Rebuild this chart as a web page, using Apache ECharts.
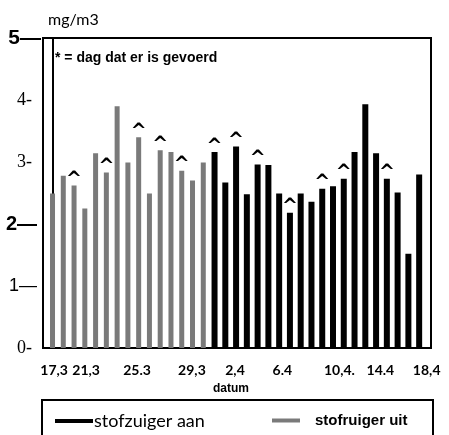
<!DOCTYPE html>
<html>
<head>
<meta charset="utf-8">
<script src="https://cdn.jsdelivr.net/npm/echarts@6/dist/echarts.min.js"></script>
<style>
  html, body { margin: 0; padding: 0; background: #fff; }
  #chart { width: 449px; height: 435px; }
</style>
</head>
<body>
<div id="chart"></div>
<script>
// dagwaarden stof (mg/m3)
const uitValues = [2.49, 2.78, 2.62, 2.25, 3.14, 2.83, 3.90, 2.99, 3.40, 2.49, 3.19, 3.16, 2.86, 2.70, 2.99];
const aanValues = [3.16, 2.67, 3.25, 2.48, 2.96, 2.95, 2.49, 2.18, 2.49, 2.36, 2.57, 2.61, 2.73, 3.16, 3.93, 3.14, 2.73, 2.51, 1.52, 2.80];
// dagen waarop gevoerd is (index binnen de reeks)
const uitFed = [2, 5, 8, 10, 12];
const aanFed = [0, 2, 4, 7, 10, 12, 16];
// datumlabels en hun plaats op de as (in staven)
const tickLabels = ['17,3', '21,3', '25.3', '29,3', '2,4', '6.4', '10,4.', '14.4', '18,4'];
const tickAt = [0.1, 3.07, 7.8, 12.9, 16.9, 21.3, 26.6, 30.4, 34.7];
const yTicks = [0, 1, 2, 3, 4, 5];

const uitData = uitValues.map((v, i) => ({
    value: [i, v],
    label: { show: uitFed.includes(i) }
}));
const aanData = aanValues.map((v, i) => ({
    value: [uitValues.length + i, v],
    label: { show: aanFed.includes(i) }
}));

const fedLabel = {
    position: 'top',
    distance: -4,
    formatter: '^',
    color: '#000',
    fontFamily: 'DejaVu Sans',
    fontWeight: 'bold',
    fontSize: 19
};

const chart = echarts.init(document.getElementById('chart'));

chart.setOption({
    animation: false,
    title: {
        text: '* = dag dat er is gevoerd',
        left: 50,
        top: 46,
        textStyle: { fontFamily: 'Liberation Sans', fontWeight: 'bold', fontSize: 14, color: '#000' }
    },
    legend: [
        {
            data: ['stofzuiger aan'],
            left: 50,
            top: 407,
            icon: 'rect',
            itemWidth: 38,
            itemHeight: 4,
            textStyle: { fontFamily: 'Lato', fontSize: 18, color: '#000', padding: [0, 0, 0, -4] }
        },
        {
            data: ['stofruiger uit'],
            left: 267,
            top: 408,
            icon: 'rect',
            itemWidth: 28,
            itemHeight: 4,
            textStyle: { fontFamily: 'Liberation Sans', fontWeight: 'bold', fontSize: 15, color: '#000', padding: [0, 0, 0, 10] }
        }
    ],
    graphic: [{
        type: 'rect',
        shape: { x: 42, y: 400, width: 391, height: 40 },
        style: { fill: 'none', stroke: '#000', lineWidth: 2 }
    }],
    grid: {
        left: 43, right: 18, top: 38, bottom: 87,
        show: true,
        borderColor: '#000',
        borderWidth: 2
    },
    xAxis: {
        type: 'value',
        min: -0.93,
        max: 35.1,
        name: 'datum',
        nameLocation: 'middle',
        nameGap: 35,
        nameTextStyle: { fontFamily: 'Liberation Sans', fontWeight: 'bold', fontSize: 12, color: '#000', padding: [0, 12, 0, 0] },
        axisLine: { show: false },
        axisTick: { show: false },
        splitLine: { show: false },
        axisLabel: {
            customValues: tickAt,
            margin: 15,
            fontFamily: 'Lato',
            fontWeight: 'bold',
            fontSize: 14,
            color: '#000',
            formatter: v => {
                let k = 0;
                tickAt.forEach((t, i) => { if (Math.abs(t - v) < Math.abs(tickAt[k] - v)) k = i; });
                return tickLabels[k];
            }
        }
    },
    yAxis: {
        type: 'value',
        min: 0,
        max: 5,
        interval: 1,
        name: 'mg/m3',
        nameGap: 10,
        nameTextStyle: { fontFamily: 'Lato', fontSize: 16, color: '#000', align: 'left', padding: [0, 0, 0, -5] },
        axisLine: { show: true, lineStyle: { color: '#000', width: 2 } },
        axisTick: { show: false },
        splitLine: { show: false },
        axisLabel: {
            margin: 2,
            customValues: yTicks,
            formatter: v => {
                if (v === 5) return '{t|5—}';
                if (v === 2) return '{b|2—}';
                if (v === 1) return '{s|1—}';
                return '{r|' + v + '-}';
            },
            rich: {
                t: { fontFamily: 'Liberation Sans', fontWeight: 'bold', fontSize: 21, color: '#000' },
                b: { fontFamily: 'Liberation Sans', fontWeight: 'bold', fontSize: 20, color: '#000', padding: [0, 4, 0, 0] },
                s: { fontFamily: 'Liberation Sans', fontSize: 18, color: '#000', padding: [0, 4, 0, 0] },
                r: { fontFamily: 'Liberation Serif', fontSize: 18, color: '#000', padding: [0, 9, 0, 0] }
            }
        }
    },
    series: [
        {
            name: 'stofruiger uit',
            type: 'bar',
            barWidth: 5,
            barGap: '-100%',
            itemStyle: { color: '#7a7a7a' },
            label: fedLabel,
            data: uitData
        },
        {
            name: 'stofzuiger aan',
            type: 'bar',
            barWidth: 6,
            barGap: '-100%',
            itemStyle: { color: '#000' },
            label: fedLabel,
            data: aanData
        }
    ]
});

window.addEventListener('resize', () => chart.resize());
</script>
</body>
</html>
